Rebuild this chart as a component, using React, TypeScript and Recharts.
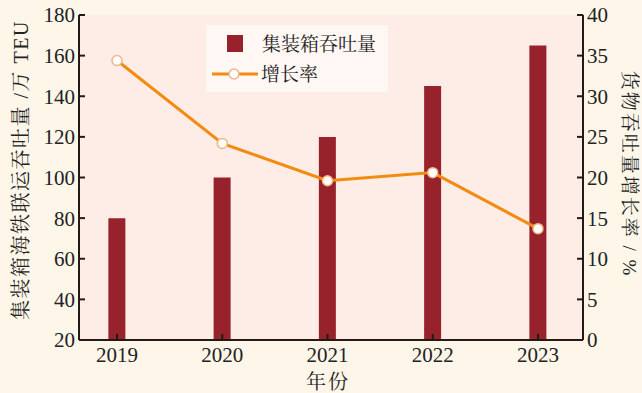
import React from 'react';
import { ComposedChart, Bar, Line, XAxis, YAxis, CartesianGrid } from 'recharts';

const years = [2019, 2020, 2021, 2022, 2023];
const throughput = [80, 100, 120, 145, 165];
const growthRate = [34.4, 24.2, 19.6, 20.6, 13.7];
const leftTicks = [20, 40, 60, 80, 100, 120, 140, 160, 180];
const rightTicks = [0, 5, 10, 15, 20, 25, 30, 35, 40];

const data = years.map((y, i) => ({ year: y, throughput: throughput[i], rate: growthRate[i] }));

const FONT = "'Liberation Serif', 'Noto Serif CJK SC', 'Noto Sans CJK SC', serif";
const AXIS = '#241a15';
const BAR = '#98222b';
const LINE = '#f28b10';

const LegendBox = () => (
  <div style={{ position: 'absolute', left: 206, top: 25, width: 182, height: 67, background: '#fef7f3', fontFamily: FONT }}>
    <svg width={182} height={67} style={{ position: 'absolute', left: 0, top: 0 }}>
      <rect x={21} y={10} width={16} height={17} fill={BAR} />
      <text x={56} y={19} dominantBaseline="central" fontSize={19} fill="#222" fontFamily={FONT}>集装箱吞吐量</text>
      <line x1={6} x2={52} y1={49} y2={49} stroke={LINE} strokeWidth={3} />
      <circle cx={28} cy={49} r={5} fill="#fff" stroke="#f3b58a" strokeWidth={1.5} />
      <text x={55} y={49} dominantBaseline="central" fontSize={19} fill="#222" fontFamily={FONT}>增长率</text>
    </svg>
  </div>
);

export default function App() {
  return (
    <div style={{ position: 'absolute', left: 0, top: 0, width: 642, height: 393, background: '#fdf6e9', overflow: 'hidden' }}>
      <ComposedChart width={642} height={393} data={data} margin={{ top: 15, right: 0, bottom: 0, left: 0 }}>
        <CartesianGrid horizontal={false} vertical={false} fill="#fdede6" stroke="none" />
        <XAxis
          dataKey="year"
          type="number"
          domain={[2018.639, 2023.4276]}
          ticks={years}
          interval={0}
          height={53}
          tickSize={-6}
          tickMargin={13}
          axisLine={{ stroke: AXIS, strokeWidth: 2 }}
          tickLine={{ stroke: AXIS, strokeWidth: 2 }}
          tick={{ fontSize: 21, fill: '#222', fontFamily: FONT }}
          allowDataOverflow
          label={{
            content: () => (
              <text x={328} y={382} textAnchor="middle" dominantBaseline="central" fontSize={20} fill="#222" fontFamily={FONT} letterSpacing={2}>年份</text>
            ),
          }}
        />
        <YAxis
          yAxisId="left"
          orientation="left"
          domain={[20, 180]}
          ticks={leftTicks}
          interval={0}
          width={79}
          tickSize={-6}
          tickMargin={10}
          axisLine={{ stroke: AXIS, strokeWidth: 2 }}
          tickLine={{ stroke: AXIS, strokeWidth: 2 }}
          tick={{ fontSize: 21, fill: '#222', fontFamily: FONT }}
          label={{
            content: () => (
              <text x={21} y={170} transform="rotate(-90 21 170)" textAnchor="middle" dominantBaseline="central" fontSize={20} fill="#222" fontFamily={FONT} letterSpacing={1.5}>集装箱海铁联运吞吐量 /万 TEU</text>
            ),
          }}
        />
        <YAxis
          yAxisId="right"
          orientation="right"
          domain={[0, 40]}
          ticks={rightTicks}
          interval={0}
          width={59}
          tickSize={-6}
          tickMargin={10}
          axisLine={{ stroke: AXIS, strokeWidth: 2 }}
          tickLine={{ stroke: AXIS, strokeWidth: 2 }}
          tick={{ fontSize: 21, fill: '#222', fontFamily: FONT }}
          label={{
            content: () => (
              <text x={629} y={174} transform="rotate(90 629 174)" textAnchor="middle" dominantBaseline="central" fontSize={19} fill="#222" fontFamily={FONT} letterSpacing={2}>货物吞吐量增长率 / %</text>
            ),
          }}
        />
        <Bar yAxisId="left" dataKey="throughput" fill={BAR} barSize={17} isAnimationActive={false} name="集装箱吞吐量" />
        <Line
          yAxisId="right"
          dataKey="rate"
          stroke={LINE}
          strokeWidth={3}
          dot={{ r: 5, fill: '#fff', stroke: '#f3b58a', strokeWidth: 1.5 }}
          activeDot={false}
          isAnimationActive={false}
          name="增长率"
        />
      </ComposedChart>
      <LegendBox />
    </div>
  );
}
